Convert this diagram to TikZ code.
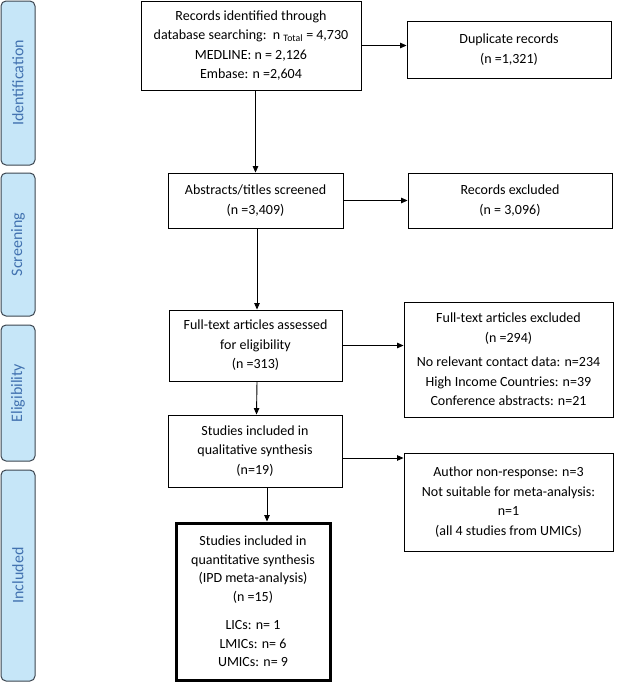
\documentclass[tikz,border=0pt]{standalone}
\usepackage{fontspec}
\setmainfont{Carlito}
\usetikzlibrary{arrows.meta}
\definecolor{barfill}{HTML}{C6E6F8}
\definecolor{barline}{HTML}{3C4650}
\definecolor{bartext}{HTML}{4272B0}
\begin{document}
\begin{tikzpicture}[x=1pt,y=-1pt,
  box/.style={draw=black, line width=0.9pt, inner sep=0pt, align=center,
    font=\fontsize{14}{19.5}\selectfont},
  bigbox/.style={box, line width=3pt},
  bar/.style={draw=barline, fill=barfill, line width=1pt, rounded corners=5pt,
    inner sep=0pt, rotate=90, minimum height=34pt, text=bartext,
    font=\fontsize{16}{18}\selectfont},
  arr/.style={-{Triangle[length=6.5pt,width=5.5pt]}, line width=0.9pt}]
\useasboundingbox (0,0) rectangle (617,683);

% side bars
\node[bar, minimum width=164pt] (sId) at (18,83) {Identification};
\node[bar, minimum width=143pt] (sSc) at (18,244.5) {Screening};
\node[bar, minimum width=136pt] (sEl) at (18,393) {Eligibility};
\node[bar, minimum width=211pt] (sIn) at (18,575.5) {Included};

% main boxes
\node[box, minimum width=220pt, minimum height=89pt] (rec) at (251,45.5)
  {Records identified through\\database searching:\ \ n \textsubscript{Total} = 4,730\\MEDLINE: n = 2,126\\Embase: n =2,604};
\node[box, minimum width=204pt, minimum height=57pt] (dup) at (509,49.5)
  {Duplicate records\\(n =1,321)};
\node[box, minimum width=175pt, minimum height=55pt] (abs) at (255.5,200.5)
  {Abstracts/titles screened\\(n =3,409)};
\node[box, minimum width=204pt, minimum height=55pt] (rex) at (510,200.5)
  {Records excluded\\(n = 3,096)};
\node[box, minimum width=173pt, minimum height=71pt] (ft) at (255.5,345.5)
  {Full-text articles assessed\\for eligibility\\(n =313)};
\node[box, minimum width=209pt, minimum height=115pt] (fte) at (508.5,359.5)
  {Full-text articles excluded\\(n =294)\\[5pt]No relevant contact data: n=234\\High Income Countries: n=39\\Conference abstracts: n=21};
\node[box, minimum width=174pt, minimum height=72pt] (qual) at (255,451)
  {Studies included in\\qualitative synthesis\\(n=19)};
\node[box, minimum width=209pt, minimum height=98pt] (auth) at (508.5,502)
  {Author non-response: n=3\\Not suitable for meta-analysis:\\n=1\\(all 4 studies from UMICs)};
\node[bigbox, minimum width=154pt, minimum height=157pt, font=\fontsize{14}{18.5}\selectfont] (quant) at (253,601.5)
  {Studies included in\\quantitative synthesis\\(IPD meta-analysis)\\(n =15)\\[10pt]LICs: n= 1\\LMICs: n= 6\\UMICs: n= 9};

% connectors
\draw[arr] (abs.north |- rec.south) -- (abs.north);
\draw[arr] (rec.east) -- (rec.east -| dup.west);
\draw[arr] (abs.east) -- (abs.east -| rex.west);
\draw[arr] ([xshift=1.5pt]abs.south) -- ([xshift=1.5pt]ft.north);
\draw[arr] (ft.east) -- (ft.east -| fte.west);
\draw[arr] ([xshift=1.5pt]ft.south) -- ([xshift=1.5pt]qual.north);
\draw[arr] ([yshift=-7pt]qual.east) -- ([yshift=-7pt]qual.east -| auth.west);
\draw[arr] ([xshift=12pt]qual.south) -- ([xshift=12pt]qual.south |- quant.north);
\end{tikzpicture}
\end{document}
